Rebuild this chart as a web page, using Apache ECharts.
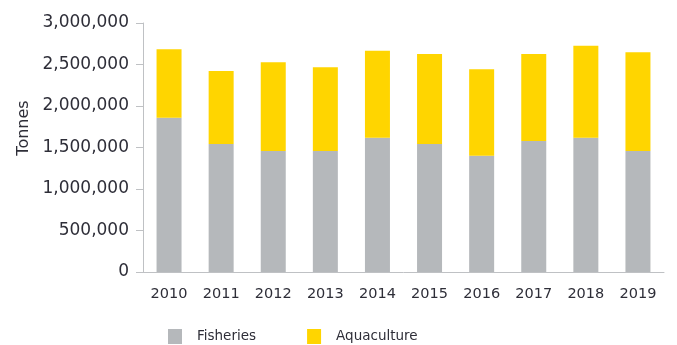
<!DOCTYPE html>
<html>
<head>
<meta charset="utf-8">
<script src="https://cdn.jsdelivr.net/npm/echarts@6/dist/echarts.min.js"></script>
<style>
  html, body { margin: 0; padding: 0; background: #fff; }
  #chart { width: 677px; height: 345px; }
</style>
</head>
<body>
<div id="chart"></div>
<script>
// Annual production in tonnes, split by source
const years = ['2010', '2011', '2012', '2013', '2014', '2015', '2016', '2017', '2018', '2019'];
const fisheries = [1859000, 1542000, 1458000, 1458000, 1618000, 1542000, 1402000, 1578000, 1618000, 1458000];
const aquaculture = [824000, 880000, 1068000, 1008000, 1049000, 1085000, 1040000, 1049000, 1109000, 1189000];
const yTicks = { min: 0, max: 3000000, interval: 500000 };

const FONT = 'DejaVu Sans';
const axisGray = '#bfc1c4';
const textColor = '#2e2e38';

const chart = echarts.init(document.getElementById('chart'), null, { renderer: 'canvas' });

chart.setOption({
  animation: false,
  backgroundColor: '#ffffff',
  grid: { left: 143, right: 13, top: 23, bottom: 73, containLabel: false },
  legend: {
    left: 168,
    top: 329,
    padding: 0,
    itemWidth: 14,
    itemHeight: 15,
    itemGap: 51,
    icon: 'rect',
    textStyle: { fontFamily: FONT, fontSize: 13.5, color: textColor, padding: [0, 0, 0, 10] },
    data: ['Fisheries', 'Aquaculture']
  },
  xAxis: {
    type: 'category',
    data: years,
    boundaryGap: true,
    axisLine: { lineStyle: { color: axisGray, width: 1 } },
    axisTick: { alignWithLabel: false, length: 6, lineStyle: { color: axisGray } },
    axisLabel: { fontFamily: FONT, fontSize: 14.5, color: textColor, margin: 15 }
  },
  yAxis: {
    type: 'value',
    min: yTicks.min,
    max: yTicks.max,
    interval: yTicks.interval,
    axisLine: { show: true, lineStyle: { color: axisGray, width: 1 } },
    axisTick: { show: true, length: 7, lineStyle: { color: axisGray } },
    splitLine: { show: false },
    axisLabel: {
      fontFamily: FONT,
      fontSize: 17,
      color: textColor,
      margin: 14,
      formatter: v => v.toLocaleString('en-US')
    }
  },
  graphic: [{
    type: 'text',
    x: 24,
    y: 128,
    rotation: Math.PI / 2,
    style: {
      text: 'Tonnes',
      fontFamily: FONT,
      fontSize: 16,
      fill: textColor,
      align: 'center',
      verticalAlign: 'middle'
    }
  }],
  series: [
    {
      name: 'Fisheries',
      type: 'bar',
      stack: 'total',
      barWidth: 25,
      data: fisheries,
      itemStyle: { color: '#b5b8bb' }
    },
    {
      name: 'Aquaculture',
      type: 'bar',
      stack: 'total',
      barWidth: 25,
      data: aquaculture,
      itemStyle: { color: '#ffd500' }
    }
  ]
});
</script>
</body>
</html>
